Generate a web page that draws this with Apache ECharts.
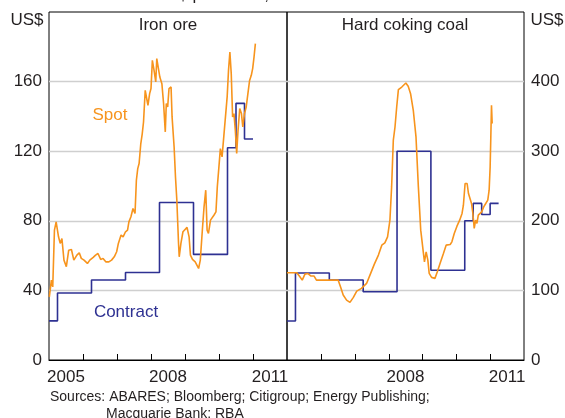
<!DOCTYPE html>
<html>
<head>
<meta charset="utf-8">
<style>
  html, body { margin: 0; padding: 0; background: #fff; }
  #main { width: 565px; height: 418px; }
</style>
<script src="https://cdn.jsdelivr.net/npm/echarts@6.0.0/dist/echarts.min.js"></script>
</head>
<body>
<div id="main"></div>
<script>
// values, x = decimal year
const ironSpot = [
  [2005.01, 36.3], [2005.07, 45.9], [2005.11, 42], [2005.16, 74.6], [2005.21, 79.4], [2005.28, 70.8],
  [2005.33, 67], [2005.38, 69.8], [2005.44, 57.4], [2005.51, 53.6], [2005.58, 63.1], [2005.66, 63.5],
  [2005.73, 57.4], [2005.82, 60.3], [2005.89, 61.6], [2005.95, 58.4], [2006.03, 57.4], [2006.13, 55.5],
  [2006.2, 57.4], [2006.3, 59], [2006.37, 60.3], [2006.44, 61.2], [2006.52, 57.8], [2006.59, 58.4],
  [2006.67, 56.4], [2006.76, 56.4], [2006.84, 57.4], [2006.92, 59.3], [2006.99, 62.2], [2007.04, 67],
  [2007.12, 71.8], [2007.18, 70.8], [2007.25, 73.7], [2007.31, 74.6], [2007.35, 79.4], [2007.41, 82.3],
  [2007.47, 87.1], [2007.53, 84.2], [2007.57, 103.3], [2007.61, 110], [2007.65, 112.9], [2007.7, 124.4],
  [2007.74, 129.7], [2007.78, 136.8], [2007.83, 155], [2007.86, 156], [2007.91, 146.4], [2007.96, 153.1],
  [2008.0, 156], [2008.04, 172.2], [2008.09, 166.5], [2008.14, 159.8], [2008.17, 173.2], [2008.22, 174.1],
  [2008.26, 162.6], [2008.32, 158.8], [2008.37, 147.4], [2008.42, 131.1], [2008.45, 147.4], [2008.49, 145.4],
  [2008.53, 156], [2008.59, 156.9], [2008.62, 139.7], [2008.68, 122.4], [2008.72, 105.2], [2008.76, 91.8],
  [2008.81, 67], [2008.83, 59.3], [2008.88, 67], [2008.94, 73.7], [2008.99, 73.7], [2009.06, 76.2],
  [2009.12, 70.8], [2009.16, 60.3], [2009.22, 57.8], [2009.3, 56.4], [2009.35, 55.5], [2009.4, 52.6],
  [2009.45, 57.4], [2009.51, 74.6], [2009.56, 88], [2009.61, 97.6], [2009.65, 74.6], [2009.69, 72.7],
  [2009.75, 80.4], [2009.8, 79.4], [2009.85, 83.2], [2009.91, 85.1], [2009.95, 99.5], [2009.99, 109.1],
  [2010.04, 121.5], [2010.09, 116.7], [2010.14, 128.2], [2010.19, 128.2], [2010.24, 151.2], [2010.28, 166.5],
  [2010.32, 177], [2010.36, 164.6], [2010.4, 139.7], [2010.44, 141.6], [2010.48, 132], [2010.52, 118.7],
  [2010.56, 132], [2010.61, 144.5], [2010.66, 141.6], [2010.7, 133.9], [2010.75, 141.6], [2010.8, 145.4],
  [2010.85, 153.1], [2010.9, 160.7], [2010.95, 163.6], [2010.99, 167.5], [2011.03, 174.1], [2011.07, 181.8]
];
const ironContract = [
  [2005.0, 22.5], [2005.25, 38.5], [2006.25, 46], [2007.25, 50.3], [2008.25, 90.5],
  [2009.25, 60.7], [2010.25, 122], [2010.5, 147.5], [2010.75, 127], [2011.0, 127]
];
const coalSpot = [
  [2005.0, 125.3], [2005.29, 125.3], [2005.38, 119.6], [2005.45, 114.8], [2005.53, 123.4], [2005.61, 124.4],
  [2005.71, 120.6], [2005.8, 120.6], [2005.87, 114.8], [2006.02, 114.8], [2006.22, 114.8], [2006.51, 114.8],
  [2006.58, 105.2], [2006.66, 93.3], [2006.76, 86.1], [2006.86, 82.8], [2006.96, 90], [2007.06, 99],
  [2007.2, 102.9], [2007.35, 110], [2007.45, 122], [2007.58, 137.8], [2007.7, 150.7], [2007.8, 165],
  [2007.89, 168.3], [2007.97, 177], [2008.04, 200.9], [2008.09, 248.7], [2008.14, 315.7], [2008.19, 334.8],
  [2008.24, 363.5], [2008.29, 388.5], [2008.39, 392.2], [2008.44, 394.7], [2008.51, 398], [2008.58, 393.2],
  [2008.65, 382.7], [2008.73, 358.8], [2008.81, 320.5], [2008.88, 248.7], [2008.95, 186.6], [2009.03, 153.1],
  [2009.06, 141.1], [2009.11, 155.4], [2009.16, 143.5], [2009.2, 124.4], [2009.27, 118.7], [2009.37, 117.3],
  [2009.44, 126.7], [2009.52, 138.8], [2009.62, 153.1], [2009.7, 165], [2009.82, 166], [2009.87, 169.8],
  [2009.94, 181.8], [2010.02, 192.3], [2010.1, 200.9], [2010.17, 210.5], [2010.21, 222.4], [2010.26, 253.6],
  [2010.32, 253.6], [2010.36, 239.2], [2010.41, 236.8], [2010.45, 224.9], [2010.49, 210.5], [2010.53, 189],
  [2010.57, 200.9], [2010.61, 196.2], [2010.65, 208.1], [2010.69, 210.5], [2010.75, 212.8], [2010.81, 220],
  [2010.87, 224.9], [2010.93, 229.6], [2010.97, 244], [2011.0, 277.4], [2011.02, 320.5], [2011.04, 366],
  [2011.06, 339.7]
];
const coalContract = [
  [2005.0, 56], [2005.25, 125], [2006.25, 115], [2007.25, 98], [2008.25, 300], [2009.25, 129],
  [2010.25, 200], [2010.5, 225], [2010.75, 209], [2011.0, 225], [2011.25, 225]
];
const years = ['2005', '2006', '2007', '2008', '2009', '2010', '2011'];
const yearBreaks = [2006, 2007, 2008, 2009, 2010, 2011];
const leftYearLabels = ['2005', '2008', '2011'];
const rightYearLabels = ['2008', '2011'];

const orange = '#f7941d';
const blue = '#2e3192';
const textColor = '#231f20';
const font = 'Liberation Sans, Arial, sans-serif';

let myChart = echarts.init(document.getElementById('main'), null, {renderer: 'canvas'});

// category axis: one slot per year, labels in the middle of the year
function yearAxis(grid, list) {
  return {
    type: 'category', gridIndex: grid, position: 'bottom', data: years, boundaryGap: true,
    axisLine: {show: true, onZero: false, lineStyle: {color: '#000', width: 1}},
    axisTick: {show: false},
    axisLabel: {show: true, interval: 0, margin: 9, color: textColor, fontSize: 17, fontFamily: font,
      formatter: v => list.indexOf(v) >= 0 ? v : ''},
    splitLine: {show: false}
  };
}
// hidden value axis that the lines are drawn against
function timeAxis(grid) {
  return {type: 'value', gridIndex: grid, position: 'bottom', min: 2005, max: 2012, show: false};
}
function lineSeries(data, color, x, y, step) {
  return {
    type: 'line', data: data, xAxisIndex: x, yAxisIndex: y, step: step || false,
    symbol: 'none', silent: true, animation: false,
    lineStyle: {color: color, width: 1.6}
  };
}
// short upward ticks on the year boundaries
function tickSeries(x, y) {
  return {
    type: 'custom', xAxisIndex: x, yAxisIndex: y, silent: true, animation: false, z: 5,
    data: yearBreaks.map(v => [v, 0]),
    renderItem: function (params, api) {
      let p = api.coord([api.value(0), 0]);
      return {type: 'line', shape: {x1: Math.round(p[0]) + 0.5, y1: p[1], x2: Math.round(p[0]) + 0.5, y2: p[1] - 6},
        style: {stroke: '#000', lineWidth: 1}};
    }
  };
}
function txt(x, y, s, color, size, align) {
  return {type: 'text', x: x, y: y, silent: true,
    style: {text: s, fill: color, font: size + 'px ' + font, textAlign: align || 'center', textVerticalAlign: 'middle'}};
}

myChart.setOption({
  animation: false,
  grid: [
    {left: 49, top: 12, width: 238, height: 348, show: true, borderColor: '#000', borderWidth: 1, outerBoundsMode: 'none'},
    {left: 287, top: 12, width: 237, height: 348, show: true, borderColor: '#000', borderWidth: 1, outerBoundsMode: 'none'}
  ],
  xAxis: [yearAxis(0, leftYearLabels), timeAxis(0), yearAxis(1, rightYearLabels), timeAxis(1)],
  yAxis: [
    {type: 'value', gridIndex: 0, min: 0, max: 200, interval: 40, position: 'left',
      axisLine: {show: false}, axisTick: {show: false},
      axisLabel: {margin: 7, color: textColor, fontSize: 17, fontFamily: font,
        formatter: v => v === 200 ? '' : String(v)},
      splitLine: {show: true, showMinLine: false, showMaxLine: false, lineStyle: {color: '#cfcfcf', width: 1.3}}},
    {type: 'value', gridIndex: 1, min: 0, max: 500, interval: 100, position: 'right',
      axisLine: {show: false}, axisTick: {show: false},
      axisLabel: {margin: 7, color: textColor, fontSize: 17, fontFamily: font,
        formatter: v => v === 500 ? '' : String(v)},
      splitLine: {show: true, showMinLine: false, showMaxLine: false, lineStyle: {color: '#cfcfcf', width: 1.3}}}
  ],
  series: [
    lineSeries(ironContract, blue, 1, 0, 'end'),
    lineSeries(ironSpot, orange, 1, 0),
    lineSeries(coalContract, blue, 3, 1, 'end'),
    lineSeries(coalSpot, orange, 3, 1),
    tickSeries(1, 0),
    tickSeries(3, 1)
  ],
  graphic: [
    txt(287, -5, 'US$ per tonne, free on board basis', textColor, 17),
    txt(27, 20, 'US$', textColor, 17),
    txt(547, 20, 'US$', textColor, 17),
    txt(168, 25, 'Iron ore', textColor, 17),
    txt(405, 25, 'Hard coking coal', textColor, 17),
    txt(110, 115, 'Spot', orange, 17),
    txt(126, 312, 'Contract', blue, 17),
    txt(50, 397, 'Sources: ABARES; Bloomberg; Citigroup; Energy Publishing;', textColor, 14, 'left'),
    txt(106, 414, 'Macquarie Bank; RBA', textColor, 14, 'left')
  ]
});
</script>
</body>
</html>
